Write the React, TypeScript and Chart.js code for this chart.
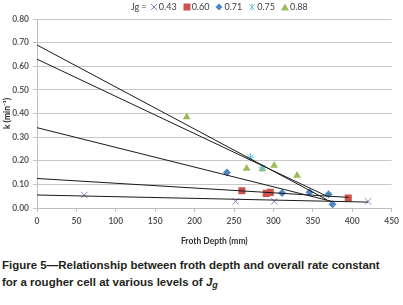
import React, { useEffect, useLayoutEffect, useRef } from "react";
import { Chart, registerables } from "chart.js";

Chart.register(...registerables);

// Jg series (froth depth mm, k min^-1)
const jg043X = [60, 252, 301, 420];
const jg043Y = [0.055, 0.028, 0.028, 0.028];
const jg060X = [260, 291, 296, 395];
const jg060Y = [0.073, 0.062, 0.066, 0.042];
const jg071X = [241, 311, 346, 370, 375];
const jg071Y = [0.15, 0.064, 0.067, 0.058, 0.016];
const jg075X = [271, 286];
const jg075Y = [0.215, 0.17];
const jg088X = [190, 266, 286, 301, 330];
const jg088Y = [0.385, 0.167, 0.165, 0.18, 0.138];

// trendlines: [x0, y0, x1, y1]
const trend088 = [0, 0.69, 368, 0.035];
const trend075 = [0, 0.63, 368, 0.05];
const trend071 = [0, 0.34, 374, 0.028];
const trend060 = [0, 0.125, 395, 0.045];
const trend043 = [0, 0.055, 420, 0.025];

const legendLabels = ["0.43", "0.60", "0.71", "0.75", "0.88"];
const xTicks = [0, 50, 100, 150, 200, 250, 300, 350, 400, 450];
const yTicks = [0, 0.1, 0.2, 0.3, 0.4, 0.5, 0.6, 0.7, 0.8];

const PURPLE = "#8e7cc3";
const RED = "#d0504d";
const BLUE = "#4f86c6";
const LBLUE = "#6ec3de";
const GREEN = "#9bbb59";

const toPts = (xs: number[], ys: number[]) => xs.map((x, i) => ({ x, y: ys[i] }));
const toLine = (t: number[]) => [
  { x: t[0], y: t[1] },
  { x: t[2], y: t[3] },
];

function LegendSymbol({ kind, color }: { kind: string; color: string }) {
  const s = 8;
  let shape: any = null;
  if (kind === "cross")
    shape = (
      <g stroke={color} strokeWidth={1}>
        <line x1={1} y1={1} x2={7} y2={7} />
        <line x1={7} y1={1} x2={1} y2={7} />
      </g>
    );
  else if (kind === "square") shape = <rect x={0.5} y={0.5} width={7} height={7} fill={color} />;
  else if (kind === "diamond") shape = <polygon points="4,0.5 7.5,4 4,7.5 0.5,4" fill={color} />;
  else if (kind === "star")
    shape = (
      <g stroke={color} strokeWidth={1}>
        <line x1={1.5} y1={1.5} x2={6.5} y2={6.5} />
        <line x1={6.5} y1={1.5} x2={1.5} y2={6.5} />
        <line x1={4} y1={0.5} x2={4} y2={7.5} />
      </g>
    );
  else if (kind === "triangle") shape = <polygon points="4,0.5 8,7.5 0,7.5" fill={color} />;
  return (
    <svg width={s} height={s} style={{ verticalAlign: "-1px", marginRight: 1 }}>
      {shape}
    </svg>
  );
}

export default function App() {
  const ref = useRef<HTMLCanvasElement | null>(null);

  useLayoutEffect(() => {
    document.body.style.margin = "0";
  }, []);

  useEffect(() => {
    if (!ref.current) return;
    const tickFont = { family: "Lato, 'Open Sans', sans-serif", size: 8.5, weight: "bold" as const };
    const lineDs = (t: number[]) => ({
      type: "line" as const,
      data: toLine(t),
      borderColor: "#1a1a1a",
      borderWidth: 1,
      pointRadius: 0,
      fill: false,
      order: 0,
    });
    const chart = new Chart(ref.current, {
      type: "scatter",
      data: {
        datasets: [
          { data: toPts(jg043X, jg043Y), pointStyle: "crossRot", pointRadius: 4.5, borderColor: PURPLE, backgroundColor: PURPLE, pointBorderWidth: 1, order: 1 },
          { data: toPts(jg060X, jg060Y), pointStyle: "rect", pointRadius: 5, borderColor: RED, backgroundColor: RED, pointBorderWidth: 0, order: 1 },
          { data: toPts(jg071X, jg071Y), pointStyle: "rectRot", pointRadius: 4, borderColor: BLUE, backgroundColor: BLUE, pointBorderWidth: 0, order: 1 },
          { data: toPts(jg075X, jg075Y), pointStyle: "star", pointRadius: 4, borderColor: LBLUE, backgroundColor: LBLUE, pointBorderWidth: 1, order: 1 },
          { data: toPts(jg088X, jg088Y), pointStyle: "triangle", pointRadius: 4.5, borderColor: GREEN, backgroundColor: GREEN, pointBorderWidth: 0, order: 1 },
          lineDs(trend088) as any,
          lineDs(trend075) as any,
          lineDs(trend071) as any,
          lineDs(trend060) as any,
          lineDs(trend043) as any,
        ],
      },
      options: {
        animation: false,
        responsive: false,
        maintainAspectRatio: false,
        layout: { padding: { top: 19, right: 10, left: 0, bottom: 0 } },
        plugins: { legend: { display: false }, tooltip: { enabled: false } },
        scales: {
          x: {
            type: "linear",
            min: 0,
            max: 450,
            afterBuildTicks: (s: any) => {
              s.ticks = xTicks.map((v) => ({ value: v }));
            },
            afterFit: (s: any) => {
              s.height = 42;
            },
            grid: { drawOnChartArea: false, drawTicks: true, tickLength: 4, color: "#bfbfbf" },
            border: { display: true, color: "#bfbfbf" },
            ticks: { font: tickFont, color: "#595959", padding: 4, maxRotation: 0 },
            title: {
              display: true,
              text: "Froth Depth (mm)",
              font: tickFont,
              color: "#333333",
              padding: { top: 2, bottom: 4 },
            },
          },
          y: {
            type: "linear",
            min: 0,
            max: 0.8,
            afterBuildTicks: (s: any) => {
              s.ticks = yTicks.map((v) => ({ value: v }));
            },
            afterFit: (s: any) => {
              s.width = 37;
            },
            grid: { color: "#c8c8c8", tickLength: 4, drawTicks: true },
            border: { display: true, color: "#bfbfbf" },
            ticks: {
              font: tickFont,
              color: "#595959",
              padding: 4,
              callback: (v: any) => Number(v).toFixed(2),
            },
            title: {
              display: true,
              text: "k (min\u207B\u00B9)",
              font: tickFont,
              color: "#262626",
              padding: { top: 2, bottom: 2 },
            },
          },
        },
      },
    });
    return () => chart.destroy();
  }, []);

  const kinds = ["cross", "square", "diamond", "star", "triangle"];
  const colors = [PURPLE, RED, BLUE, LBLUE, GREEN];

  return (
    <div style={{ position: "relative", width: 403, height: 305, background: "#fff" }}>
      <canvas ref={ref} width={403} height={250} style={{ position: "absolute", left: 0, top: 0, width: 403, height: 250 }} />
      <div
        style={{
          position: "absolute",
          left: 131,
          top: 1,
          font: "9px Lato, 'Open Sans', sans-serif",
          color: "#404040",
          whiteSpace: "nowrap",
          lineHeight: "12px",
        }}
      >
        <span style={{ marginRight: 3 }}>Jg =</span>
        {legendLabels.map((l, i) => (
          <span key={l} style={{ marginRight: 6 }}>
            <LegendSymbol kind={kinds[i]} color={colors[i]} />
            {l}
          </span>
        ))}
      </div>
      <div
        style={{
          position: "absolute",
          left: 2,
          top: 257,
          font: "11.5px 'Liberation Sans', Arial, sans-serif",
          color: "#231f20",
          lineHeight: "17px",
          whiteSpace: "nowrap",
          fontWeight: 700,
        }}
      >
        <div>Figure 5—Relationship between froth depth and overall rate constant</div>
        <div>
          for a rougher cell at various levels of <i>J</i>
          <sub style={{ fontSize: 9, verticalAlign: "-2px" }}>
            <i>g</i>
          </sub>
        </div>
      </div>
    </div>
  );
}
